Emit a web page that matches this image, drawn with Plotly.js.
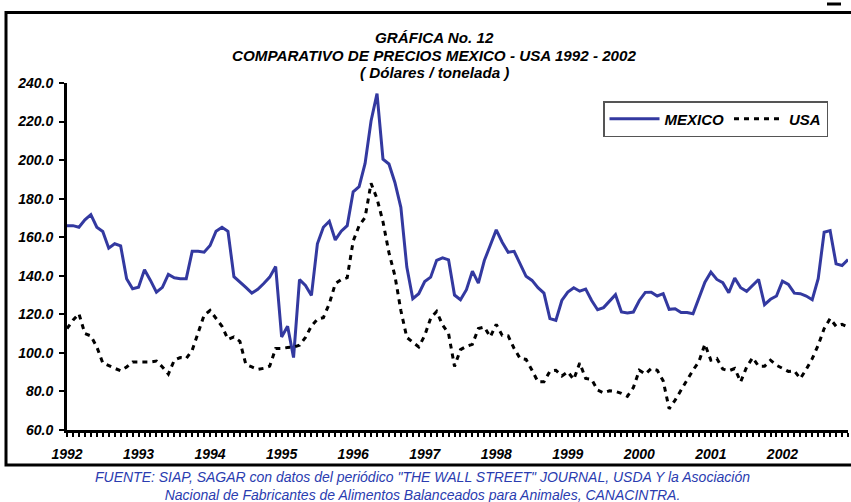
<!DOCTYPE html>
<html>
<head>
<meta charset="utf-8">
<script src="https://cdn.plot.ly/plotly-3.0.1.min.js"></script>
<style>
html,body{margin:0;padding:0;background:#fff;}
#chart{width:851px;height:502px;}
</style>
</head>
<body>
<div id="chart"></div>
<script>
// ---- data (monthly, Jan 1992 – Dec 2002, US$/ton) ----
var years = [1992, 1993, 1994, 1995, 1996, 1997, 1998, 1999, 2000, 2001, 2002];

var mexico = [
  166, 166, 165.2, 169, 171.7, 165.2, 163, 154.3, 156.6, 155.5, 138.5, 133.3,
  134.1, 143.1, 137.6, 131.5, 134, 140.7, 139, 138.5, 138.5, 152.7, 152.7, 152.2,
  155.7, 163.1, 165.2, 163.1, 139.5, 137, 134, 131, 133, 136, 139.3, 144.8,
  108.3, 113.8, 97.6, 138, 135, 129.8, 156.6, 165.2, 168.3, 158.6, 163.1, 166,
  183.6, 186.2, 198.3, 220.3, 234.5, 200.5, 198, 188.4, 175.5, 144.5, 128.1, 130.7,
  137, 139.3, 148, 149.3, 148.3, 130, 127.6, 132.8, 142.4, 136.2, 147.9, 155.8,
  163.8, 157.4, 152.2, 152.7, 146.5, 139.7, 137.6, 133.8, 131, 117.8, 116.9, 127.2,
  131.5, 133.8, 132, 133.1, 127.2, 122.4, 123.5, 127, 130.2, 121.2, 120.7, 121.2,
  127.2, 131.4, 131.5, 129.5, 130.7, 122.6, 122.9, 120.9, 120.9, 120.3, 128, 136.7,
  141.9, 138.1, 136.4, 131.2, 138.8, 133.8, 131.9, 135, 138.1, 125, 127.8, 129.5,
  137.2, 135.5, 131, 130.7, 129.5, 127.6, 138.5, 162.6, 163.4, 146.2, 145.3, 148.4
];

var usa = [
  112.6, 116.9, 120.3, 110, 108.8, 103.1, 94.8, 93.6, 92, 90.7, 92.7, 95.3,
  95.2, 95.1, 95.3, 95.8, 92.7, 89, 96.2, 97.6, 97.1, 101.4, 110, 119.5,
  122, 118, 113.8, 107, 108.3, 106, 94, 92.7, 91.4, 92, 93.1, 102.3,
  102.3, 102.8, 103, 104, 108, 114, 117.5, 118.3, 125.5, 135.9, 138, 139,
  158, 166, 170.3, 188, 180, 168, 152, 140, 122, 108, 105.5, 103.1,
  109, 118, 121.5, 114.5, 110, 93, 101.7, 103.4, 104.5, 112.6, 113.4, 108.3,
  114.8, 109.1, 108.8, 102.3, 97.1, 96.6, 91, 85, 85, 90.5, 91, 88,
  90.2, 86.2, 94.8, 86.7, 86.2, 80.7, 79.3, 80.3, 80, 79, 77.5, 82,
  91, 89, 91.9, 91, 85.5, 71, 75.5, 81, 85.9, 91, 95.5, 104.5,
  96.2, 97.1, 91.6, 90.7, 91.9, 85, 92.7, 97.5, 93.1, 93.1, 96.2, 93.6,
  92, 90.4, 90.7, 86.7, 91.5, 97, 104, 112.6, 117.8, 113.8, 114.8, 113.4
];

var seriesNames = ['MEXICO', 'USA'];
var titleLines = ['GRÁFICA No. 12', 'COMPARATIVO DE PRECIOS MEXICO - USA 1992 - 2002', '( Dólares / tonelada )'];
var sourceLines = [
  'FUENTE: SIAP, SAGAR con datos del periódico "THE WALL STREET" JOURNAL, USDA Y la Asociación',
  'Nacional de Fabricantes de Alimentos Balanceados para Animales, CANACINTRA.'
];

// ---- build ----
var months = mexico.map(function (_, i) { return i; });
var tickVals = months.slice();
var tickText = months.map(function (i) { return (i % 12 === 0) ? String(years[i / 12]) : ''; });

var FONT = 'Liberation Sans, Arial, sans-serif';
var W = 851, H = 502, L = 67, R = 3, T = 83, B = 72;
var PW = W - L - R, PH = H - T - B;
function px(x) { return (x - L) / PW; }
function py(y) { return (H - B - y) / PH; }

var traces = [
  { x: months, y: mexico, name: seriesNames[0], type: 'scatter', mode: 'lines',
    line: { color: '#3339a0', width: 3 } },
  { x: months, y: usa, name: seriesNames[1], type: 'scatter', mode: 'lines',
    line: { color: '#000000', width: 3, dash: '5px,5px' } }
];

var bi = { family: FONT, size: 14, color: '#000', weight: 'bold', style: 'italic' };
var biTitle = { family: FONT, size: 15.2, color: '#000', weight: 'bold', style: 'italic' };

var annotations = [];
var titleY = [38, 55.5, 73];
titleLines.forEach(function (t, k) {
  annotations.push({ text: t, xref: 'paper', yref: 'paper', x: px(434), y: py(titleY[k]),
    xanchor: 'center', yanchor: 'middle', showarrow: false, font: biTitle });
});
annotations.push({ text: sourceLines.join('<br>'), xref: 'paper', yref: 'paper',
  x: px(422), y: py(486), xanchor: 'center', yanchor: 'middle', align: 'center',
  showarrow: false, borderpad: 0,
  font: { family: FONT, size: 14, color: '#2a3cb0', style: 'italic' } });

var layout = {
  width: W, height: H,
  margin: { l: L, r: R, t: T, b: B, pad: 0 },
  paper_bgcolor: '#fff', plot_bgcolor: '#fff',
  showlegend: true,
  legend: {
    orientation: 'h', x: px(603), y: py(101), xanchor: 'left', yanchor: 'top',
    bgcolor: '#fff', bordercolor: '#555', borderwidth: 1.5,
    font: { family: FONT, size: 15, color: '#000', weight: 'bold', style: 'italic' },
    itemwidth: 50, tracegroupgap: 0
  },
  xaxis: {
    range: [0, months.length - 1], showgrid: false, zeroline: false,
    showline: true, linecolor: '#000', linewidth: 3,
    tickmode: 'array', tickvals: tickVals, ticktext: tickText,
    ticks: 'outside', ticklen: 4, tickwidth: 2, tickcolor: '#000',
    tickfont: bi, ticklabelstandoff: 5, fixedrange: true
  },
  yaxis: {
    range: [60, 240], dtick: 20, tick0: 60, tickformat: '.1f',
    showgrid: false, zeroline: false,
    showline: true, linecolor: '#000', linewidth: 3,
    ticks: 'outside', ticklen: 5, tickwidth: 2, tickcolor: '#000',
    tickfont: bi, ticklabelstandoff: 3, fixedrange: true
  },
  annotations: annotations,
  shapes: [
    { type: 'rect', xref: 'paper', yref: 'paper', x0: px(6), x1: px(870), y0: py(465), y1: py(12.5),
      line: { color: '#000', width: 3 }, fillcolor: 'rgba(0,0,0,0)', layer: 'above' },
    { type: 'line', xref: 'paper', yref: 'paper', x0: px(827), x1: px(841), y0: py(4), y1: py(4),
      line: { color: '#000', width: 3 } }
  ]
};

Plotly.newPlot('chart', traces, layout, { displayModeBar: false, staticPlot: true });
</script>
</body>
</html>
